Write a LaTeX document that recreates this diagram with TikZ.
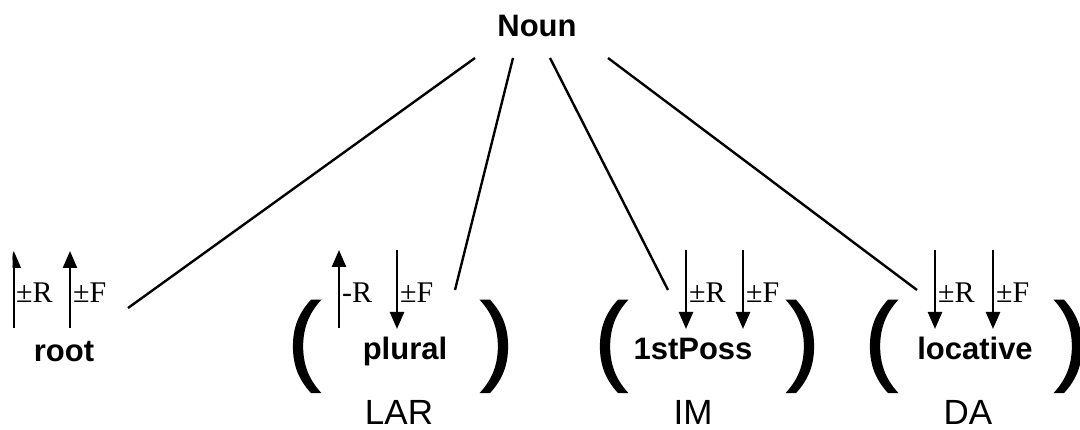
\documentclass[tikz,border=0pt]{standalone}
\usepackage{fontspec}
\setmainfont{Liberation Serif}
\newfontfamily\arialfont{Liberation Sans}
\newfontfamily\parenfont[FakeBold=1.5]{Liberation Sans}
\usetikzlibrary{arrows.meta}

\tikzset{
  morph/.style={font=\arialfont\bfseries\fontsize{31}{32}\selectfont, inner sep=0pt, anchor=base},
  gloss/.style={font=\arialfont\fontsize{35}{36}\selectfont, inner sep=0pt, anchor=base},
  paren/.style={font=\parenfont\fontsize{99}{99}\selectfont, inner sep=0pt, anchor=base},
  feat/.style={font=\fontsize{30}{31}\selectfont, inner sep=0pt, anchor=base west},
  branch/.style={line width=2.4pt},
  featarrow/.style={line width=2.4pt, -{Triangle[width=14pt,length=17pt]}},
}

\begin{document}
\begin{tikzpicture}[x=1pt,y=-1pt]
\useasboundingbox (0,0) rectangle (1080,430);
\clip (12.6,0) rectangle (1080,430);

% root word and its morphemes
\node[morph] (noun) at (537,37) {Noun};
\node[morph] (root) at (64,362) {root};
\node[morph] (plural) at (405,360) {plural};
\node[morph] (poss) at (693,360) {1stPoss};
\node[morph] (loc) at (975,360) {locative};

% surface forms
\node[gloss] (lar) at (399,425) {LAR};
\node[gloss] (im) at (693,425) {IM};
\node[gloss] (da) at (968,425) {DA};

% optionality brackets
\node[paren] (pl1) at (304,372) {(};
\node[paren] (pl2) at (497,372) {)};
\node[paren] (po1) at (611,372) {(};
\node[paren] (po2) at (803,372) {)};
\node[paren] (lo1) at (881,372) {(};
\node[paren] (lo2) at (1071,372) {)};

% branch ends
\coordinate (s1) at (475,58);
\coordinate (s2) at (513,58);
\coordinate (s3) at (550,58);
\coordinate (s4) at (608,58);
\coordinate (e1) at (128,308);
\coordinate (e2) at (455,290);
\coordinate (e3) at (668,290);
\coordinate (e4) at (917,290);
\draw[branch] (s1) -- (e1);
\draw[branch] (s2) -- (e2);
\draw[branch] (s3) -- (e3);
\draw[branch] (s4) -- (e4);

% feature arrows: root
\coordinate (ra1) at (13.8,328);
\coordinate (ra1t) at (13.8,251);
\coordinate (ra2) at (70,328);
\coordinate (ra2t) at (70,251);
\draw[featarrow] (ra1) -- (ra1t);
\draw[featarrow] (ra2) -- (ra2t);
\node[feat] (rR) at (16,303) {±R};
\node[feat] (rF) at (73,303) {±F};

% feature arrows: plural
\coordinate (pa1) at (339,328);
\coordinate (pa1t) at (339,250);
\coordinate (pa2) at (397,250);
\coordinate (pa2t) at (397,329);
\draw[featarrow] (pa1) -- (pa1t);
\draw[featarrow] (pa2) -- (pa2t);
\node[feat] (pR) at (342,303) {-R};
\node[feat] (pF) at (400,303) {±F};

% feature arrows: 1stPoss
\coordinate (qa1) at (686,250);
\coordinate (qa1t) at (686,329);
\coordinate (qa2) at (743,250);
\coordinate (qa2t) at (743,329);
\draw[featarrow] (qa1) -- (qa1t);
\draw[featarrow] (qa2) -- (qa2t);
\node[feat] (qR) at (689,303) {±R};
\node[feat] (qF) at (746,303) {±F};

% feature arrows: locative
\coordinate (la1) at (935,250);
\coordinate (la1t) at (935,329);
\coordinate (la2) at (993,250);
\coordinate (la2t) at (993,329);
\draw[featarrow] (la1) -- (la1t);
\draw[featarrow] (la2) -- (la2t);
\node[feat] (lR) at (938,303) {±R};
\node[feat] (lF) at (996,303) {±F};
\end{tikzpicture}
\end{document}
